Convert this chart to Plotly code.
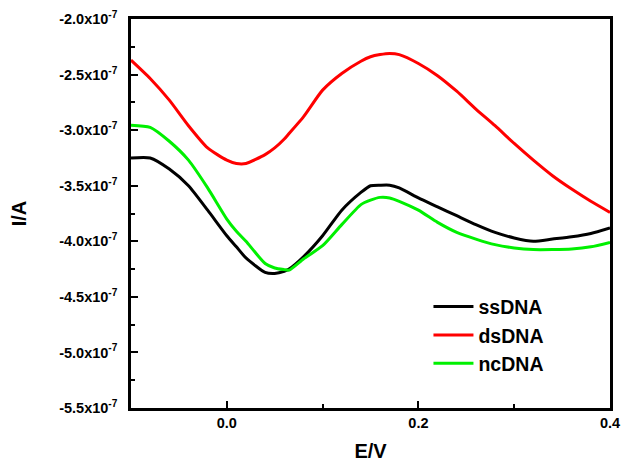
import numpy as np
import plotly.graph_objects as go

# Potential (V)
E = [-0.10, -0.08, -0.06, -0.04, -0.02, 0.00, 0.01, 0.02, 0.04, 0.05, 0.06, 0.065, 0.08, 0.10,
     0.12, 0.14, 0.15, 0.16, 0.17, 0.18, 0.20, 0.22, 0.24, 0.26, 0.28, 0.30, 0.32, 0.34,
     0.36, 0.38, 0.40]

# Currents in units of 1e-7 A
ssDNA = [-3.25, -3.25, -3.35, -3.50, -3.72, -3.95, -4.05, -4.15, -4.28, -4.29, -4.27, -4.25, -4.14, -3.95,
         -3.72, -3.56, -3.50, -3.495, -3.495, -3.52, -3.61, -3.69, -3.77, -3.85, -3.92, -3.97, -4.00, -3.98,
         -3.96, -3.93, -3.88]
dsDNA = [-2.37, -2.535, -2.73, -2.96, -3.16, -3.27, -3.30, -3.30, -3.22, -3.16, -3.08, -3.03, -2.88, -2.64,
         -2.49, -2.38, -2.34, -2.32, -2.31, -2.32, -2.40, -2.51, -2.65, -2.81, -2.96, -3.12, -3.27, -3.41,
         -3.53, -3.64, -3.74]
ncDNA = [-2.955, -2.975, -3.10, -3.27, -3.52, -3.80, -3.91, -4.00, -4.20, -4.24, -4.255, -4.26, -4.16, -4.04,
         -3.85, -3.67, -3.63, -3.605, -3.61, -3.64, -3.72, -3.83, -3.92, -3.98, -4.03, -4.06, -4.075, -4.075,
         -4.07, -4.05, -4.01]

series = [("ssDNA", ssDNA, "#000000"), ("dsDNA", dsDNA, "#ff0000"), ("ncDNA", ncDNA, "#00f000")]

ytick_vals = [-2.0, -2.5, -3.0, -3.5, -4.0, -4.5, -5.0, -5.5]
ytick_text = [f"<b>{v:.1f}x10<sup>-7</sup></b>" for v in ytick_vals]
xtick_vals = [0.0, 0.2, 0.4]
xtick_text = ["<b>0.0</b>", "<b>0.2</b>", "<b>0.4</b>"]

FONT = "Liberation Sans, Arial, sans-serif"

fig = go.Figure()
for name, vals, col in series:
    fig.add_trace(go.Scatter(x=E, y=np.array(vals) * 1e-7, mode="lines", name=f"<b>{name}</b>",
                             line=dict(color=col, width=3, shape="spline", smoothing=0.6)))

fig.update_layout(
    width=624, height=464,
    margin=dict(l=131, r=14, t=19, b=56, autoexpand=False),
    paper_bgcolor="white", plot_bgcolor="white",
    font=dict(family=FONT, color="black"),
    legend=dict(x=0.621, y=0.31, xanchor="left", yanchor="top", bgcolor="rgba(0,0,0,0)",
                font=dict(size=19.5, family=FONT), tracegroupgap=0, itemwidth=40),
    showlegend=True,
)
fig.update_xaxes(
    range=[-0.1, 0.4], tickvals=xtick_vals, ticktext=xtick_text, automargin=False,
    ticklabeloverflow="allow",
    ticks="inside", ticklen=7, tickwidth=2, tickcolor="black",
    minor=dict(dtick=0.1, tick0=0, ticks="inside", ticklen=4, tickwidth=2, tickcolor="black"),
    showline=True, linecolor="black", linewidth=2.5, mirror=True, showgrid=False, zeroline=False,
    tickfont=dict(size=14.5, family=FONT),
    title=dict(text="<b>E/V</b>", font=dict(size=20, family=FONT), standoff=14),
)
fig.update_yaxes(
    range=[-5.5e-7, -2.0e-7], tickvals=[v * 1e-7 for v in ytick_vals], ticktext=ytick_text, automargin=False,
    ticks="inside", ticklen=7, tickwidth=2, tickcolor="black", ticklabelstandoff=8,
    minor=dict(dtick=0.5e-7, tick0=-2.25e-7, ticks="inside", ticklen=4, tickwidth=2, tickcolor="black"),
    showline=True, linecolor="black", linewidth=2.5, mirror=True, showgrid=False, zeroline=False,
    tickfont=dict(size=14.5, family=FONT),
    title=dict(text="<b>I/A</b>", font=dict(size=20, family=FONT), standoff=28),
)

fig.write_html("out.html", config={"displayModeBar": False},
               post_script="document.body.style.margin='0';document.body.style.overflow='hidden';")
